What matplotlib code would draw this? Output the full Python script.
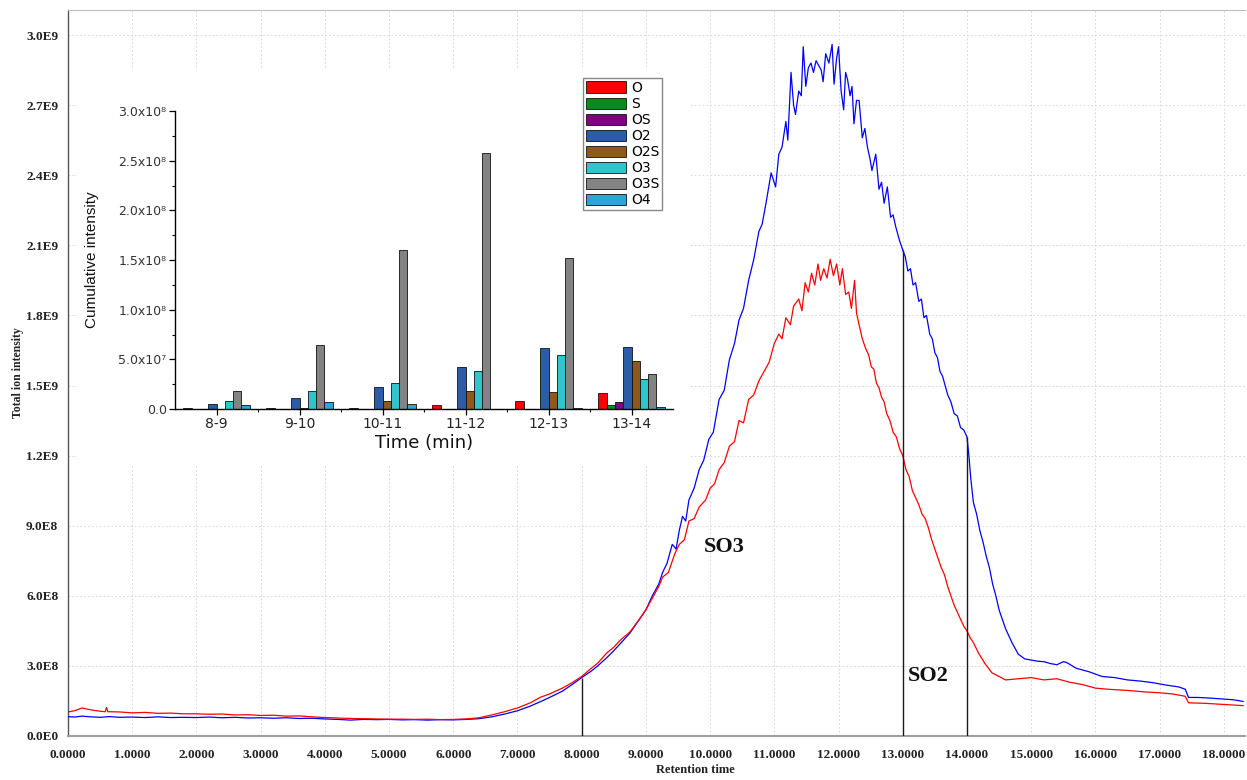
import numpy as np
import matplotlib
matplotlib.use("Agg")
import matplotlib.pyplot as plt
from matplotlib.ticker import FixedLocator, MultipleLocator

# ---------------- total ion chromatograms: (time / min, intensity / 1E9) ----------------
blue_trace = [
    (0.00, 0.083), (0.10, 0.081), (0.22, 0.085), (0.35, 0.082), (0.50, 0.080), (0.65, 0.083),
    (0.80, 0.080), (1.00, 0.081), (1.20, 0.079), (1.40, 0.082), (1.60, 0.079), (1.80, 0.080),
    (2.00, 0.079), (2.20, 0.081), (2.40, 0.078), (2.60, 0.080), (2.80, 0.077), (3.00, 0.078),
    (3.20, 0.076), (3.40, 0.078), (3.60, 0.075), (3.80, 0.076), (4.00, 0.073), (4.20, 0.071),
    (4.40, 0.068), (4.60, 0.071), (4.80, 0.070), (5.00, 0.071), (5.20, 0.069), (5.40, 0.070),
    (5.60, 0.068), (5.80, 0.070), (6.00, 0.069), (6.20, 0.071), (6.40, 0.074), (6.60, 0.082),
    (6.80, 0.094), (7.00, 0.108), (7.20, 0.128), (7.35, 0.146), (7.50, 0.165), (7.70, 0.192),
    (7.85, 0.220), (8.00, 0.250), (8.15, 0.278), (8.25, 0.300), (8.39, 0.335), (8.50, 0.365),
    (8.60, 0.395), (8.75, 0.440), (8.90, 0.500), (9.00, 0.540), (9.10, 0.600), (9.20, 0.650),
    (9.26, 0.700), (9.33, 0.740), (9.41, 0.820), (9.47, 0.800), (9.52, 0.880), (9.57, 0.940),
    (9.62, 0.920), (9.67, 1.010), (9.75, 1.060), (9.83, 1.140), (9.90, 1.180), (9.98, 1.270),
    (10.05, 1.300), (10.14, 1.440), (10.22, 1.480), (10.30, 1.610), (10.38, 1.680),
    (10.45, 1.780), (10.52, 1.830), (10.60, 1.950), (10.68, 2.040), (10.76, 2.160),
    (10.81, 2.190), (10.87, 2.280), (10.95, 2.410), (11.02, 2.350), (11.07, 2.490),
    (11.12, 2.520), (11.18, 2.630), (11.21, 2.550), (11.26, 2.840), (11.30, 2.700),
    (11.33, 2.660), (11.38, 2.760), (11.42, 2.740), (11.45, 2.950), (11.49, 2.780),
    (11.53, 2.860), (11.57, 2.880), (11.61, 2.840), (11.65, 2.890), (11.69, 2.870),
    (11.73, 2.850), (11.76, 2.800), (11.80, 2.920), (11.85, 2.880), (11.90, 2.960),
    (11.93, 2.790), (11.97, 2.900), (12.00, 2.950), (12.04, 2.760), (12.08, 2.680),
    (12.11, 2.840), (12.14, 2.810), (12.18, 2.740), (12.21, 2.780), (12.24, 2.620),
    (12.28, 2.720), (12.32, 2.720), (12.37, 2.560), (12.41, 2.600), (12.45, 2.520),
    (12.49, 2.470), (12.52, 2.420), (12.58, 2.490), (12.63, 2.340), (12.67, 2.370),
    (12.71, 2.280), (12.76, 2.350), (12.81, 2.220), (12.85, 2.230), (12.89, 2.180),
    (12.95, 2.120), (13.00, 2.080), (13.04, 2.050), (13.08, 1.990), (13.12, 2.000),
    (13.16, 1.930), (13.20, 1.940), (13.25, 1.860), (13.29, 1.870), (13.33, 1.790),
    (13.37, 1.800), (13.42, 1.720), (13.46, 1.700), (13.50, 1.640), (13.54, 1.620),
    (13.58, 1.560), (13.62, 1.540), (13.66, 1.500), (13.70, 1.460), (13.75, 1.430),
    (13.80, 1.380), (13.85, 1.370), (13.90, 1.320), (13.95, 1.310), (14.00, 1.280),
    (14.03, 1.200), (14.06, 1.100), (14.10, 1.000), (14.15, 0.950), (14.20, 0.880),
    (14.25, 0.830), (14.30, 0.770), (14.35, 0.720), (14.40, 0.650), (14.45, 0.600),
    (14.50, 0.540), (14.55, 0.500), (14.60, 0.460), (14.65, 0.430), (14.70, 0.400),
    (14.80, 0.350), (14.90, 0.330), (15.00, 0.325), (15.10, 0.320), (15.20, 0.318),
    (15.30, 0.310), (15.40, 0.305), (15.50, 0.318), (15.55, 0.315), (15.70, 0.290),
    (15.90, 0.275), (16.10, 0.255), (16.30, 0.250), (16.50, 0.240), (16.70, 0.235),
    (16.90, 0.228), (17.10, 0.218), (17.30, 0.210), (17.40, 0.200), (17.45, 0.165),
    (17.60, 0.165), (17.80, 0.162), (18.00, 0.158), (18.15, 0.155), (18.30, 0.148),
]

red_trace = [
    (0.00, 0.103), (0.10, 0.108), (0.22, 0.120), (0.30, 0.115), (0.40, 0.110), (0.50, 0.106),
    (0.58, 0.104), (0.60, 0.122), (0.62, 0.104), (0.80, 0.103), (1.00, 0.099), (1.20, 0.101),
    (1.40, 0.097), (1.60, 0.098), (1.80, 0.095), (2.00, 0.095), (2.20, 0.093), (2.40, 0.094),
    (2.60, 0.090), (2.80, 0.091), (3.00, 0.088), (3.20, 0.089), (3.40, 0.085), (3.60, 0.086),
    (3.80, 0.082), (4.00, 0.079), (4.20, 0.077), (4.40, 0.075), (4.60, 0.074), (4.80, 0.073),
    (5.00, 0.072), (5.20, 0.072), (5.40, 0.071), (5.60, 0.072), (5.80, 0.070), (6.00, 0.071),
    (6.20, 0.073), (6.40, 0.078), (6.60, 0.090), (6.80, 0.104), (7.00, 0.120), (7.20, 0.142),
    (7.35, 0.165), (7.50, 0.180), (7.70, 0.205), (7.85, 0.228), (8.00, 0.255), (8.15, 0.290),
    (8.25, 0.312), (8.39, 0.355), (8.50, 0.380), (8.60, 0.410), (8.75, 0.445), (8.90, 0.500),
    (9.00, 0.540), (9.10, 0.590), (9.20, 0.640), (9.26, 0.680), (9.35, 0.700), (9.45, 0.780),
    (9.52, 0.820), (9.60, 0.840), (9.67, 0.920), (9.75, 0.930), (9.83, 0.980), (9.93, 1.010),
    (10.00, 1.060), (10.07, 1.080), (10.14, 1.140), (10.22, 1.170), (10.30, 1.240),
    (10.38, 1.260), (10.45, 1.350), (10.52, 1.340), (10.60, 1.440), (10.68, 1.460),
    (10.76, 1.520), (10.84, 1.560), (10.92, 1.600), (11.00, 1.680), (11.07, 1.720),
    (11.12, 1.700), (11.18, 1.790), (11.25, 1.760), (11.30, 1.840), (11.38, 1.870),
    (11.43, 1.820), (11.48, 1.940), (11.53, 1.900), (11.58, 1.980), (11.63, 1.930),
    (11.68, 2.020), (11.72, 1.950), (11.77, 2.000), (11.82, 1.960), (11.87, 2.040),
    (11.92, 1.970), (11.97, 2.020), (12.02, 1.930), (12.06, 2.000), (12.11, 1.890),
    (12.16, 1.900), (12.20, 1.830), (12.25, 1.950), (12.28, 1.810), (12.32, 1.760),
    (12.37, 1.700), (12.42, 1.660), (12.47, 1.630), (12.51, 1.580), (12.55, 1.570),
    (12.59, 1.510), (12.63, 1.490), (12.67, 1.450), (12.71, 1.430), (12.75, 1.380),
    (12.80, 1.350), (12.85, 1.300), (12.90, 1.280), (12.95, 1.230), (13.00, 1.200),
    (13.05, 1.140), (13.10, 1.110), (13.15, 1.050), (13.20, 1.020), (13.25, 0.990),
    (13.30, 0.950), (13.35, 0.930), (13.40, 0.890), (13.45, 0.840), (13.50, 0.800),
    (13.55, 0.760), (13.60, 0.720), (13.65, 0.690), (13.70, 0.640), (13.75, 0.600),
    (13.80, 0.560), (13.85, 0.530), (13.90, 0.500), (13.95, 0.470), (14.00, 0.450),
    (14.05, 0.420), (14.10, 0.400), (14.18, 0.355), (14.28, 0.310), (14.39, 0.270),
    (14.50, 0.255), (14.60, 0.240), (14.80, 0.245), (15.00, 0.250), (15.20, 0.240),
    (15.40, 0.245), (15.60, 0.230), (15.80, 0.220), (16.00, 0.205), (16.20, 0.200),
    (16.50, 0.195), (16.80, 0.188), (17.00, 0.185), (17.20, 0.180), (17.40, 0.170),
    (17.45, 0.142), (17.70, 0.140), (18.00, 0.135), (18.30, 0.130),
]

cut_times = [8.0, 13.0, 14.0]
x_ticks = list(range(0, 19))
y_ticks = [0.0, 0.3, 0.6, 0.9, 1.2, 1.5, 1.8, 2.1, 2.4, 2.7, 3.0]
y_tick_labels = ["0.0E0", "3.0E8", "6.0E8", "9.0E8", "1.2E9", "1.5E9", "1.8E9",
                 "2.1E9", "2.4E9", "2.7E9", "3.0E9"]

# ---------------- cumulative intensity per time window (units of 1E6) ----------------
windows = ["8-9", "9-10", "10-11", "11-12", "12-13", "13-14"]
classes = ["O", "S", "OS", "O2", "O2S", "O3", "O3S", "O4"]
class_colors = ["#ff0000", "#0a8a1e", "#800080", "#2a5ca8", "#8e5a1c", "#2ec6cc",
                "#838383", "#2aa6d8"]
cum_O = [1.0, 1.0, 1.0, 3.7, 8.4, 16.4]
cum_S = [0.0, 0.0, 0.5, 0.5, 0.5, 4.0]
cum_OS = [0.0, 0.0, 0.0, 0.0, 0.0, 6.7]
cum_O2 = [5.0, 11.0, 22.0, 42.6, 61.0, 62.8]
cum_O2S = [0.0, 1.3, 7.7, 18.0, 16.8, 48.0]
cum_O3 = [8.4, 17.8, 26.0, 38.6, 54.0, 30.0]
cum_O3S = [18.0, 64.4, 160.0, 258.0, 152.0, 35.0]
cum_O4 = [3.7, 6.7, 5.0, 0.0, 1.0, 2.3]
inset_y_ticks = [0, 5e7, 1e8, 1.5e8, 2e8, 2.5e8, 3e8]
inset_y_labels = ["0.0", "5.0x10\u2077", "1.0x10\u2078", "1.5x10\u2078", "2.0x10\u2078",
                  "2.5x10\u2078", "3.0x10\u2078"]

W, H = 1247, 780
fig = plt.figure(figsize=(W / 100, H / 100), dpi=100)

# main axes
ax = fig.add_axes([68 / W, 1 - 736 / H, (1245 - 68) / W, (736 - 10) / H])
tb, vb = (np.array(c) for c in zip(*blue_trace))
tr, vr = (np.array(c) for c in zip(*red_trace))
ax.plot(tb, vb, color="#0000ff", lw=0.9, zorder=3)
ax.plot(tr, vr, color="#ff0000", lw=0.9, zorder=4)
for t in cut_times:
    ax.vlines(t, 0, np.interp(t, tb, vb), color="#1a1a1a", lw=1.0, zorder=5)

ax.set_xlim(0, 18.33)
ax.set_ylim(0, 3.107)
ax.xaxis.set_major_locator(FixedLocator(x_ticks))
ax.set_xticklabels([f"{v:.4f}" for v in x_ticks])
ax.yaxis.set_major_locator(FixedLocator(y_ticks))
ax.set_yticklabels(y_tick_labels)
ax.grid(True, color="#dcdcdc", linestyle=(0, (2, 2)), lw=0.7, zorder=0)
ax.tick_params(axis="both", length=0)
ax.tick_params(axis="x", pad=9)
ax.tick_params(axis="y", pad=7)
serif_bold = dict(family="Liberation Serif", weight="bold")
for lab in ax.get_xticklabels() + ax.get_yticklabels():
    lab.set_fontfamily("Liberation Serif")
    lab.set_fontweight("bold")
    lab.set_fontsize(9.5)
    lab.set_color("#222222")
ax.set_ylabel("Total ion intensity", fontsize=8.5, color="#222222", **serif_bold)
ax.yaxis.set_label_coords(-0.037, 0.5)
ax.set_xlabel("Retention time", fontsize=9, color="#222222", **serif_bold)
ax.xaxis.set_label_coords(0.533, -0.039)
ax.spines["right"].set_visible(False)
ax.spines["left"].set_color("#555555")
ax.spines["left"].set_linewidth(1.0)
ax.spines["bottom"].set_color("#a0a0a0")
ax.spines["bottom"].set_linewidth(1.5)
ax.spines["top"].set_color("#c0c0c0")
ax.spines["top"].set_linewidth(0.8)

ax.text(10.22, 0.81, "SO3", fontsize=16, ha="center", va="center", color="#111111", **serif_bold)
ax.text(13.40, 0.257, "SO2", fontsize=16, ha="center", va="center", color="#111111", **serif_bold)

# white panel behind the inset
panel = fig.add_axes([77 / W, 1 - 465 / H, (690 - 77) / W, (465 - 70) / H])
panel.set_facecolor("white")
panel.set_xticks([])
panel.set_yticks([])
for s in panel.spines.values():
    s.set_visible(False)

# inset bar chart
axi = fig.add_axes([175 / W, 1 - 409 / H, (673 - 175) / W, (409 - 111) / H])
axi.set_facecolor("none")
series = [cum_O, cum_S, cum_OS, cum_O2, cum_O2S, cum_O3, cum_O3S, cum_O4]
pos = np.arange(len(windows))
bw = 0.1
handles = []
for i, (name, vals, col) in enumerate(zip(classes, series, class_colors)):
    h = axi.bar(pos + (i - 3.5) * bw, np.array(vals) * 1e6, width=bw, color=col,
                edgecolor="#111111", linewidth=0.6, label=name)
    handles.append(h)
axi.set_xlim(-0.5, len(windows) - 0.5)
axi.set_ylim(0, 3e8)
axi.set_xticks(pos)
axi.set_xticklabels(windows, fontsize=10, family="DejaVu Sans", color="#222222")
axi.xaxis.set_minor_locator(FixedLocator(pos[:-1] + 0.5))
axi.yaxis.set_major_locator(FixedLocator(inset_y_ticks))
axi.set_yticklabels(inset_y_labels, fontsize=9, family="DejaVu Sans", color="#333333")
axi.yaxis.set_minor_locator(MultipleLocator(2.5e7))
axi.tick_params(axis="both", which="major", direction="out", length=4, width=0.9, pad=2)
axi.tick_params(axis="both", which="minor", direction="out", length=2.5, width=0.8)
axi.spines["top"].set_visible(False)
axi.spines["right"].set_visible(False)
axi.spines["left"].set_linewidth(1.0)
axi.spines["bottom"].set_linewidth(1.0)
axi.set_xlabel("Time (min)", fontsize=13, family="DejaVu Sans", color="#111111", labelpad=2)
axi.set_ylabel("Cumulative intensity", fontsize=11, family="Liberation Sans", color="#111111")
axi.yaxis.set_label_coords((99 - 175) / (673 - 175), 0.5)
axi.legend(handles=handles, loc="upper left", bbox_to_anchor=(583 / W, 1 - 78 / H),
           bbox_transform=fig.transFigure, frameon=True, fancybox=False,
           edgecolor="#888888", framealpha=1, prop=dict(family="DejaVu Sans", size=10),
           handlelength=2.9, handleheight=0.85, labelspacing=0.15, handletextpad=0.35,
           borderpad=0.2, borderaxespad=0)

fig.savefig("out.png", dpi=100)
